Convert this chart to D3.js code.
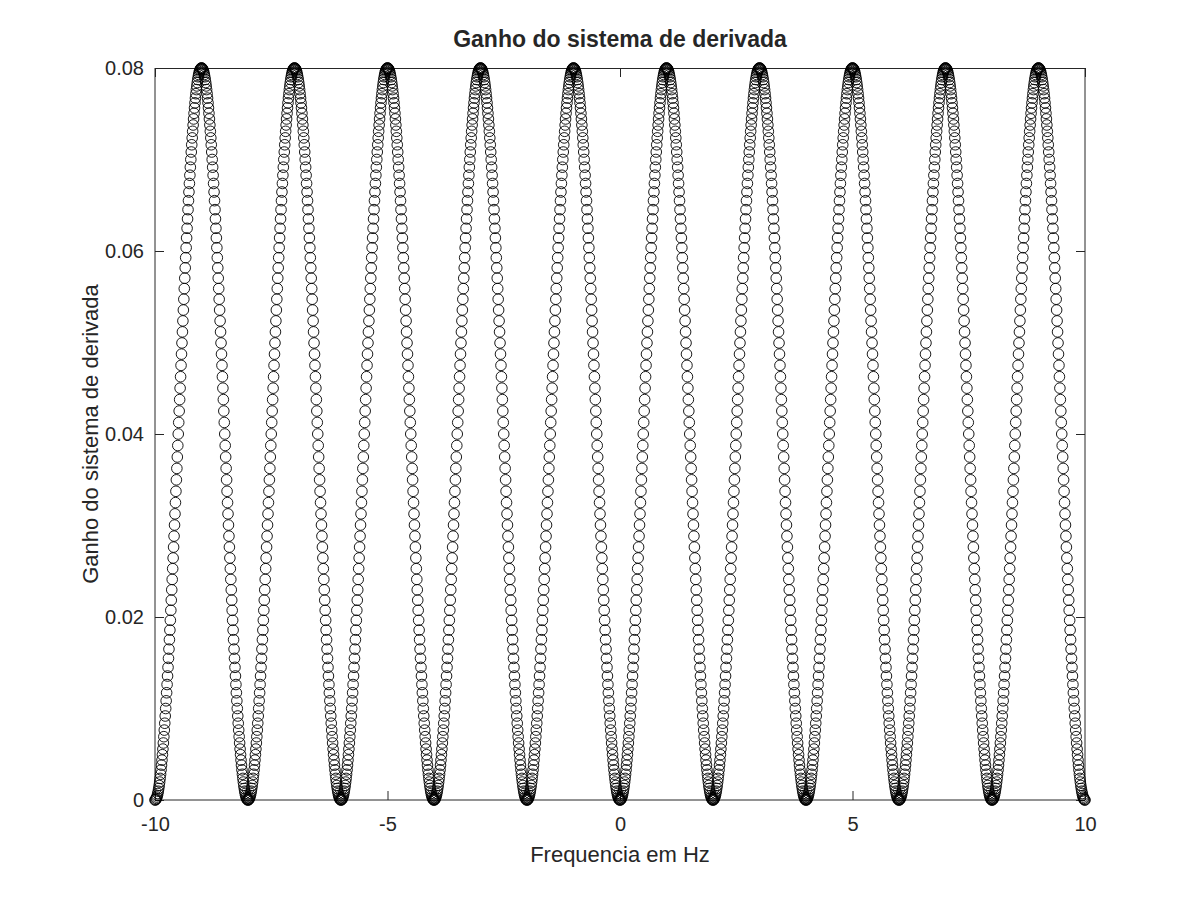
<!DOCTYPE html>
<html>
<head>
<meta charset="utf-8">
<script src="https://cdn.jsdelivr.net/npm/d3@7"></script>
<style>
  html, body { margin: 0; padding: 0; background: #fff; }
  svg { display: block; }
  text { font-family: "Liberation Sans", Arial, Helvetica, sans-serif; fill: #262626; }
</style>
</head>
<body>
<svg id="chart" width="1200" height="900"></svg>
<script>
// ---- data ----
const chartTitle = "Ganho do sistema de derivada";
const xLabel = "Frequencia em Hz";
const yLabel = "Ganho do sistema de derivada";
const xTicks = [-10, -5, 0, 5, 10];
const yTicks = [0, 0.02, 0.04, 0.06, 0.08];
const xDomain = [-10, 10];
const yDomain = [0, 0.08];
// sample grid of the frequency axis
const freqStart = -10;
const freqStep = 0.01;
const freqCount = 2001;
// gain over one 2 Hz period (samples 0.00 .. 1.99 Hz from each even integer)
const gainPeriod = [
0,0.00002,0.00008,0.00018,0.00032,0.00049,0.00071,0.00096,0.00126,0.00159,
0.00196,0.00236,0.00281,0.00329,0.00381,0.00436,0.00495,0.00557,0.00623,0.00692,
0.00764,0.00839,0.00918,0.01000,0.01084,0.01172,0.01262,0.01355,0.01450,0.01548,
0.01649,0.01752,0.01857,0.01964,0.02073,0.02184,0.02297,0.02411,0.02528,0.02645,
0.02764,0.02884,0.03005,0.03127,0.03250,0.03374,0.03499,0.03624,0.03749,0.03874,
0.04000,0.04126,0.04251,0.04376,0.04501,0.04626,0.04750,0.04873,0.04995,0.05116,
0.05236,0.05355,0.05473,0.05589,0.05703,0.05816,0.05927,0.06036,0.06143,0.06248,
0.06351,0.06452,0.06550,0.06645,0.06738,0.06828,0.06916,0.07000,0.07082,0.07161,
0.07236,0.07308,0.07377,0.07443,0.07505,0.07564,0.07619,0.07671,0.07719,0.07764,
0.07804,0.07841,0.07874,0.07904,0.07929,0.07951,0.07968,0.07982,0.07992,0.07998,
0.08000,0.07998,0.07992,0.07982,0.07968,0.07951,0.07929,0.07904,0.07874,0.07841,
0.07804,0.07764,0.07719,0.07671,0.07619,0.07564,0.07505,0.07443,0.07377,0.07308,
0.07236,0.07161,0.07082,0.07000,0.06916,0.06828,0.06738,0.06645,0.06550,0.06452,
0.06351,0.06248,0.06143,0.06036,0.05927,0.05816,0.05703,0.05589,0.05473,0.05355,
0.05236,0.05116,0.04995,0.04873,0.04750,0.04626,0.04501,0.04376,0.04251,0.04126,
0.04000,0.03874,0.03749,0.03624,0.03499,0.03374,0.03250,0.03127,0.03005,0.02884,
0.02764,0.02645,0.02528,0.02411,0.02297,0.02184,0.02073,0.01964,0.01857,0.01752,
0.01649,0.01548,0.01450,0.01355,0.01262,0.01172,0.01084,0.01000,0.00918,0.00839,
0.00764,0.00692,0.00623,0.00557,0.00495,0.00436,0.00381,0.00329,0.00281,0.00236,
0.00196,0.00159,0.00126,0.00096,0.00071,0.00049,0.00032,0.00018,0.00008,0.00002
];

// ---- build series ----
const points = d3.range(freqCount).map(i => ({
  f: freqStart + i * freqStep,
  g: gainPeriod[i % gainPeriod.length]
}));

// ---- layout ----
const margin = { left: 155, right: 115, top: 68, bottom: 100 };
const W = 1200, H = 900;
const innerW = W - margin.left - margin.right;
const innerH = H - margin.top - margin.bottom;

const svg = d3.select("#chart");
const x = d3.scaleLinear().domain(xDomain).range([margin.left, margin.left + innerW]);
const y = d3.scaleLinear().domain(yDomain).range([margin.top + innerH, margin.top]);

const axisColor = "#262626";
const tickLen = 9;

const x0 = x(xDomain[0]), x1 = x(xDomain[1]), y0 = y(yDomain[0]), y1 = y(yDomain[1]);

// box edges
const edges = [
  [x0, y1 + 0.5, x1, y1 + 0.5],   // top
  [x0, y0, x1, y0],               // bottom
  [x0, y0, x0, y1],               // left
  [x1, y0, x1, y1]                // right
];
svg.append("g").selectAll("line").data(edges).enter().append("line")
  .attr("x1", d => d[0]).attr("y1", d => d[1])
  .attr("x2", d => d[2]).attr("y2", d => d[3])
  .attr("stroke", axisColor).attr("stroke-width", 1);

// bottom axis (ticks inward) + top mirror ticks
const xAxisB = d3.axisBottom(x).tickValues(xTicks).tickSize(-tickLen).tickPadding(17)
  .tickFormat(d => String(d));
const gxb = svg.append("g").attr("transform", `translate(0,${y0})`).call(xAxisB);
const xAxisT = d3.axisTop(x).tickValues(xTicks).tickSize(-tickLen).tickFormat("");
const gxt = svg.append("g").attr("transform", `translate(0,${y1})`).call(xAxisT);

const yFmt = d => d === 0 ? "0" : d3.format(".2f")(d);
const yAxisL = d3.axisLeft(y).tickValues(yTicks).tickSize(-tickLen).tickPadding(11)
  .tickFormat(yFmt);
const gyl = svg.append("g").attr("transform", `translate(${x0},0)`).call(yAxisL);
const yAxisR = d3.axisRight(y).tickValues(yTicks).tickSize(-tickLen).tickFormat("");
const gyr = svg.append("g").attr("transform", `translate(${x1},0)`).call(yAxisR);

[gxb, gxt, gyl, gyr].forEach(g => {
  g.select(".domain").remove();
  g.selectAll(".tick line").attr("stroke", axisColor);
  g.selectAll(".tick text").attr("fill", axisColor)
    .style("font-family", '"Liberation Sans", Arial, sans-serif').style("font-size", "20px");
});

// markers
svg.append("g").selectAll("circle")
  .data(points)
  .enter().append("circle")
  .attr("cx", d => x(d.f))
  .attr("cy", d => y(d.g))
  .attr("r", 5.3)
  .attr("fill", "none")
  .attr("stroke", "#000")
  .attr("stroke-width", 0.9);

// title & labels
svg.append("text")
  .attr("x", (x0 + x1) / 2).attr("y", 47)
  .attr("text-anchor", "middle")
  .style("font-size", "23px").style("font-weight", "bold").attr("fill", "#000")
  .text(chartTitle);

svg.append("text")
  .attr("x", (x0 + x1) / 2).attr("y", 862)
  .attr("text-anchor", "middle")
  .style("font-size", "22px")
  .text(xLabel);

svg.append("text")
  .attr("transform", `translate(98,${(y0 + y1) / 2}) rotate(-90)`)
  .attr("text-anchor", "middle")
  .style("font-size", "22px")
  .text(yLabel);
</script>
</body>
</html>
